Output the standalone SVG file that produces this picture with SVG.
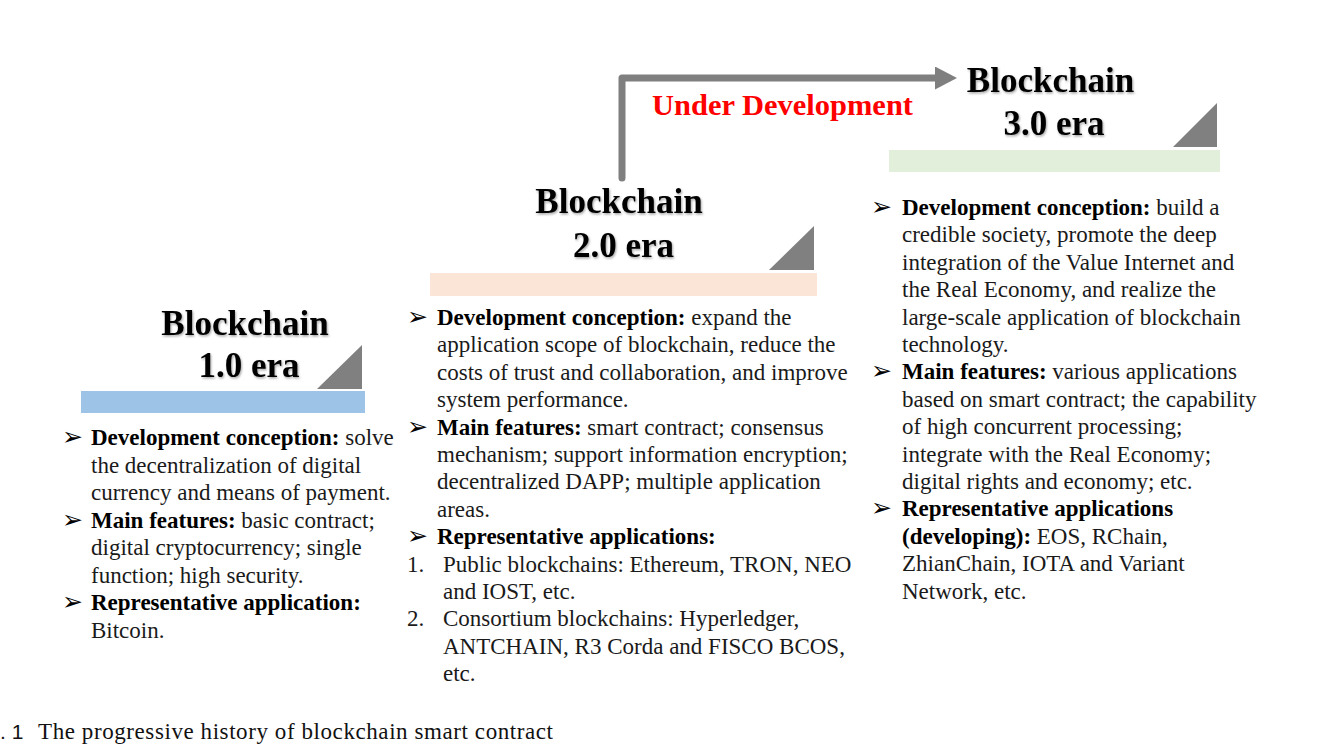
<svg xmlns="http://www.w3.org/2000/svg" width="1334" height="753" viewBox="0 0 1334 753">
  <defs>
    <filter id="shadow" x="-10%" y="-20%" width="120%" height="150%">
      <feDropShadow dx="1" dy="1.5" stdDeviation="1" flood-color="#000" flood-opacity="0.35"/>
    </filter>
    <marker id="arrowhead" markerUnits="userSpaceOnUse" markerWidth="23" markerHeight="24" refX="0" refY="11.5" orient="auto">
      <path d="M0,0 L22,11.5 L0,23 Z" fill="#7f7f7f"/>
    </marker>
    <style>
      .title { font-family: "Liberation Serif", "Times New Roman", serif; font-weight: bold; font-size: 35px; fill: #000; text-anchor: middle; filter: url(#shadow); }
      .body { font-family: "Liberation Serif", "Times New Roman", serif; font-size: 23px; fill: #1a1a1a; }
      .b { font-weight: bold; fill: #000; }
      .bullet { font-family: "DejaVu Sans", sans-serif; font-size: 25px; fill: #000; }
      .tri { fill: #808080; }
      .label { font-family: "Liberation Serif", "Times New Roman", serif; font-weight: bold; font-size: 30px; fill: #ff0000; }
      .caption { font-family: "Liberation Serif", "Times New Roman", serif; font-size: 23px; fill: #111; }
      .capnum { font-family: "Liberation Sans", Arial, sans-serif; font-size: 21px; fill: #111; }
    </style>
  </defs>
  <rect width="1334" height="753" fill="#fff"/>

  <g id="connectors">
    <path d="M622,178 V78 H935" fill="none" stroke="#7f7f7f" stroke-width="7" stroke-linejoin="round" stroke-linecap="round" marker-end="url(#arrowhead)"/>
    <text class="label" x="652" y="115" textLength="261" lengthAdjust="spacingAndGlyphs">Under Development</text>
  </g>

  <g id="era1">
    <rect x="81" y="391" width="284" height="22" fill="#9dc3e6"/>
    <polygon class="tri" points="317,389 362,389 362,345"/>
    <text class="title" x="245" y="335">Blockchain</text>
    <text class="title" x="249" y="377">1.0 era</text>
    <g class="body">
      <text class="bullet" x="62" y="445">➢</text>
      <text x="91" y="445"><tspan class="b">Development conception:</tspan> solve</text>
      <text x="91" y="472.5">the decentralization of digital</text>
      <text x="91" y="500">currency and means of payment.</text>
      <text class="bullet" x="62" y="527.5">➢</text>
      <text x="91" y="527.5"><tspan class="b">Main features:</tspan> basic contract;</text>
      <text x="91" y="555">digital cryptocurrency; single</text>
      <text x="91" y="582.5">function; high security.</text>
      <text class="bullet" x="62" y="610">➢</text>
      <text x="91" y="610"><tspan class="b">Representative application:</tspan></text>
      <text x="91" y="637.5">Bitcoin.</text>
    </g>
  </g>

  <g id="era2">
    <rect x="430" y="273" width="387" height="23" fill="#fbe5d6"/>
    <polygon class="tri" points="769,270 814,270 814,226"/>
    <text class="title" x="619" y="213">Blockchain</text>
    <text class="title" x="623.5" y="257">2.0 era</text>
    <g class="body">
      <text class="bullet" x="407" y="325">➢</text>
      <text x="437" y="325"><tspan class="b">Development conception:</tspan> expand the</text>
      <text x="437" y="352.4">application scope of blockchain, reduce the</text>
      <text x="437" y="379.8">costs of trust and collaboration, and improve</text>
      <text x="437" y="407.2">system performance.</text>
      <text class="bullet" x="407" y="434.6">➢</text>
      <text x="437" y="434.6"><tspan class="b">Main features:</tspan> smart contract; consensus</text>
      <text x="437" y="462">mechanism; support information encryption;</text>
      <text x="437" y="489.4">decentralized DAPP; multiple application</text>
      <text x="437" y="516.8">areas.</text>
      <text class="bullet" x="407" y="544.2">➢</text>
      <text x="437" y="544.2"><tspan class="b">Representative applications:</tspan></text>
      <text x="407" y="571.6">1.</text>
      <text x="443" y="571.6">Public blockchains: Ethereum, TRON, NEO</text>
      <text x="443" y="599">and IOST, etc.</text>
      <text x="407" y="626.4">2.</text>
      <text x="443" y="626.4">Consortium blockchains: Hyperledger,</text>
      <text x="443" y="653.8">ANTCHAIN, R3 Corda and FISCO BCOS,</text>
      <text x="443" y="681.2">etc.</text>
    </g>
  </g>

  <g id="era3">
    <rect x="889" y="150" width="331" height="22" fill="#e2efda"/>
    <polygon class="tri" points="1173,147 1217,147 1217,103"/>
    <text class="title" x="1050.5" y="92">Blockchain</text>
    <text class="title" x="1054" y="135">3.0 era</text>
    <g class="body">
      <text class="bullet" x="871" y="215">➢</text>
      <text x="902" y="215"><tspan class="b">Development conception:</tspan> build a</text>
      <text x="902" y="242.4">credible society, promote the deep</text>
      <text x="902" y="269.8">integration of the Value Internet and</text>
      <text x="902" y="297.2">the Real Economy, and realize the</text>
      <text x="902" y="324.6">large-scale application of blockchain</text>
      <text x="902" y="352">technology.</text>
      <text class="bullet" x="871" y="379.4">➢</text>
      <text x="902" y="379.4"><tspan class="b">Main features:</tspan> various applications</text>
      <text x="902" y="406.8">based on smart contract; the capability</text>
      <text x="902" y="434.2">of high concurrent processing;</text>
      <text x="902" y="461.6">integrate with the Real Economy;</text>
      <text x="902" y="489">digital rights and economy; etc.</text>
      <text class="bullet" x="871" y="516.4">➢</text>
      <text x="902" y="516.4"><tspan class="b">Representative applications</tspan></text>
      <text x="902" y="543.8"><tspan class="b">(developing):</tspan> EOS, RChain,</text>
      <text x="902" y="571.2">ZhianChain, IOTA and Variant</text>
      <text x="902" y="598.6">Network, etc.</text>
    </g>
  </g>

  <g id="caption">
    <text class="capnum" x="0" y="739">. 1</text>
    <text class="caption" x="38" y="739" textLength="515" lengthAdjust="spacing">The progressive history of blockchain smart contract</text>
  </g>
</svg>
